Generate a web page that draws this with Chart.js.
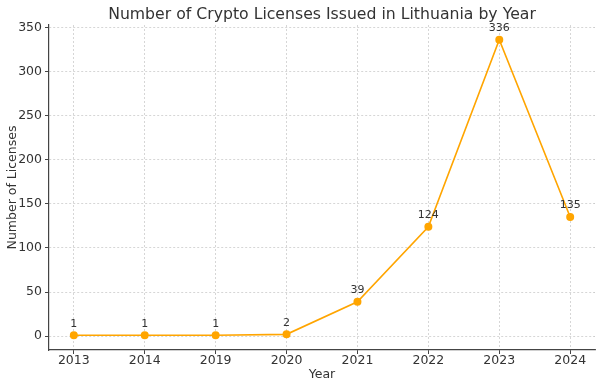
<!DOCTYPE html>
<html><head><meta charset="utf-8">
<script src="https://cdn.jsdelivr.net/npm/chart.js@4"></script>
<style>html,body{margin:0;padding:0;background:#fff}#wrap{width:602px;height:388px}</style>
</head><body><div id="wrap"><canvas id="c" width="602" height="388"></canvas></div>
<script>
const years = ['2013','2014','2019','2020','2021','2022','2023','2024'];
const licenses = [1, 1, 1, 2, 39, 124, 336, 135];
const yTicks = [0, 50, 100, 150, 200, 250, 300, 350];
const titleText = 'Number of Crypto Licenses Issued in Lithuania by Year';
const xTitle = 'Year';
const yTitle = 'Number of Licenses';

const FONT = "'DejaVu Sans', sans-serif";
const TXT = '#333333';
const ORANGE = '#FFA500';

const labelsPlugin = {
  id: 'extras',
  afterDatasetsDraw(chart) {
    const ctx = chart.ctx;
    const meta = chart.getDatasetMeta(0);
    ctx.save();
    ctx.fillStyle = TXT;
    ctx.font = '11px ' + FONT;
    ctx.textAlign = 'center';
    ctx.textBaseline = 'bottom';
    meta.data.forEach((pt, i) => {
      ctx.fillText(String(licenses[i]), pt.x, pt.y - 6);
    });
    ctx.restore();
  },
  afterDraw(chart) {
    const ctx = chart.ctx;
    const a = chart.chartArea;
    ctx.save();
    ctx.fillStyle = TXT;
    ctx.textAlign = 'center';
    ctx.textBaseline = 'middle';
    ctx.font = '15.7px ' + FONT;
    ctx.fillText(titleText, (a.left + a.right) / 2, 14.5);
    ctx.font = '12.5px ' + FONT;
    ctx.fillText(xTitle, (a.left + a.right) / 2, 375);
    ctx.translate(12.5, (a.top + a.bottom) / 2);
    ctx.rotate(-Math.PI / 2);
    ctx.fillText(yTitle, 0, 0);
    ctx.restore();
  }
};

new Chart(document.getElementById('c'), {
  type: 'line',
  data: {
    datasets: [{
      data: licenses.map((v, i) => ({x: i, y: v})),
      borderColor: ORANGE,
      backgroundColor: ORANGE,
      borderWidth: 1.6,
      pointRadius: 3.2,
      pointHoverRadius: 3.2,
      pointBackgroundColor: ORANGE,
      pointBorderColor: ORANGE,
      tension: 0,
      fill: false
    }]
  },
  options: {
    responsive: false,
    animation: false,
    devicePixelRatio: 1,
    layout: { padding: { top: 25, right: 7, left: 0, bottom: 0 } },
    plugins: { legend: { display: false }, tooltip: { enabled: false }, title: { display: false } },
    scales: {
      x: {
        type: 'linear',
        min: -0.35,
        max: years.length - 1 + 0.35,
        afterBuildTicks(axis) { axis.ticks = years.map((y, i) => ({value: i})); },
        afterFit(axis) { axis.height = 38; },
        ticks: {
          callback: (v) => years[v] ?? '',
          color: TXT,
          font: { family: FONT, size: 12.5 },
          padding: -1,
          maxRotation: 0,
          autoSkip: false
        },
        grid: { color: '#cccccc', lineWidth: 0.8, tickColor: '#444', tickLength: 4, tickBorderDash: [], tickWidth: 1 },
        border: { display: true, color: '#444', width: 1.2, dash: [2, 2] }
      },
      y: {
        type: 'linear',
        min: -15.75,
        max: 352.75,
        afterBuildTicks(axis) { axis.ticks = yTicks.map(v => ({value: v})); },
        afterFit(axis) { axis.width = 49; },
        ticks: {
          color: TXT,
          font: { family: FONT, size: 12.5 },
          padding: 3
        },
        grid: { color: '#cccccc', lineWidth: 0.8, tickColor: '#444', tickLength: 4, tickBorderDash: [], tickWidth: 1 },
        border: { display: true, color: '#444', width: 1.2, dash: [2, 2] }
      }
    }
  },
  plugins: [labelsPlugin]
});
</script>
</body></html>
